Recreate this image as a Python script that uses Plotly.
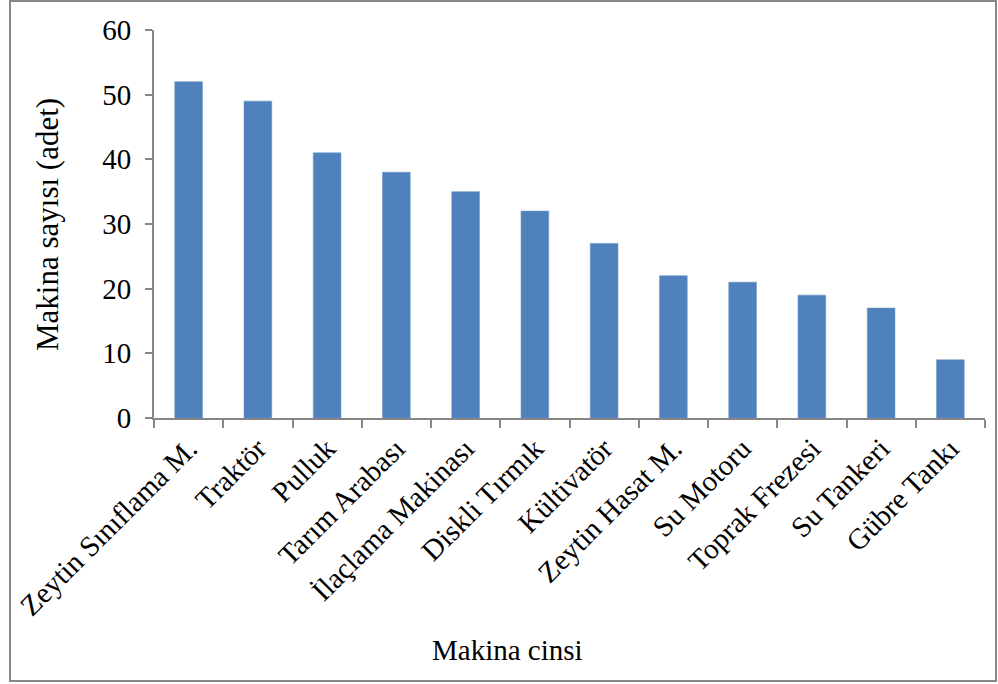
import plotly.graph_objects as go

# Machine types and their counts
makinalar = [
    "Zeytin Sınıflama M.", "Traktör", "Pulluk", "Tarım Arabası",
    "İlaçlama Makinası", "Diskli Tırmık", "Kültivatör", "Zeytin Hasat M.",
    "Su Motoru", "Toprak Frezesi", "Su Tankeri", "Gübre Tankı",
]
adet = [52, 49, 41, 38, 35, 32, 27, 22, 21, 19, 17, 9]

y_ticks = [0, 10, 20, 30, 40, 50, 60]

W, H = 998, 684
L, R, T, B = 154, 13, 30, 266

font_family = "Liberation Serif, Times New Roman, serif"
axis_grey = "#868686"

fig = go.Figure(
    go.Bar(
        x=makinalar,
        y=adet,
        width=0.4,
        marker=dict(color="#4F81BD", line=dict(color="#6A95C8", width=0.6)),
    )
)

fig.update_layout(
    width=W,
    height=H,
    margin=dict(l=L, r=R, t=T, b=B, autoexpand=False),
    paper_bgcolor="white",
    plot_bgcolor="white",
    showlegend=False,
    font=dict(family=font_family, size=28, color="black"),
    xaxis=dict(
        tickangle=-45,
        showline=True,
        linecolor=axis_grey,
        linewidth=2,
        ticks="outside",
        ticklen=8,
        tickcolor=axis_grey,
        tickwidth=1.5,
        tickson="boundaries",
        showgrid=False,
        automargin=False,
        tickfont=dict(size=29),
        range=[-0.5, len(makinalar) - 0.5],
    ),
    yaxis=dict(
        range=[0, 60],
        tickvals=y_ticks,
        showline=True,
        linecolor=axis_grey,
        linewidth=2,
        ticks="outside",
        ticklen=7,
        tickcolor=axis_grey,
        tickwidth=1.5,
        ticklabelstandoff=8,
        showgrid=False,
        zeroline=False,
        automargin=False,
        tickfont=dict(size=29),
    ),
)

# Helpers converting pixel positions to paper coordinates
pw = W - L - R
ph = H - T - B
def px_x(v):
    return (v - L) / pw
def px_y(v):
    return (H - B - v) / ph

# Axis titles
fig.add_annotation(
    text="Makina cinsi", xref="paper", yref="paper",
    x=px_x(507), y=px_y(650), showarrow=False,
    xanchor="center", yanchor="middle", font=dict(size=29),
)
fig.add_annotation(
    text="Makina sayısı (adet)", xref="paper", yref="paper",
    x=px_x(47), y=px_y(225), showarrow=False, textangle=-90,
    xanchor="center", yanchor="middle", font=dict(size=31),
)

# Frame around the whole chart
fig.add_shape(
    type="rect",
    xref="paper", yref="paper",
    x0=px_x(10), x1=px_x(996),
    y0=px_y(681), y1=px_y(1),
    line=dict(color="#888888", width=2),
    fillcolor="rgba(0,0,0,0)",
    layer="above",
)

fig.write_html("out.html")
